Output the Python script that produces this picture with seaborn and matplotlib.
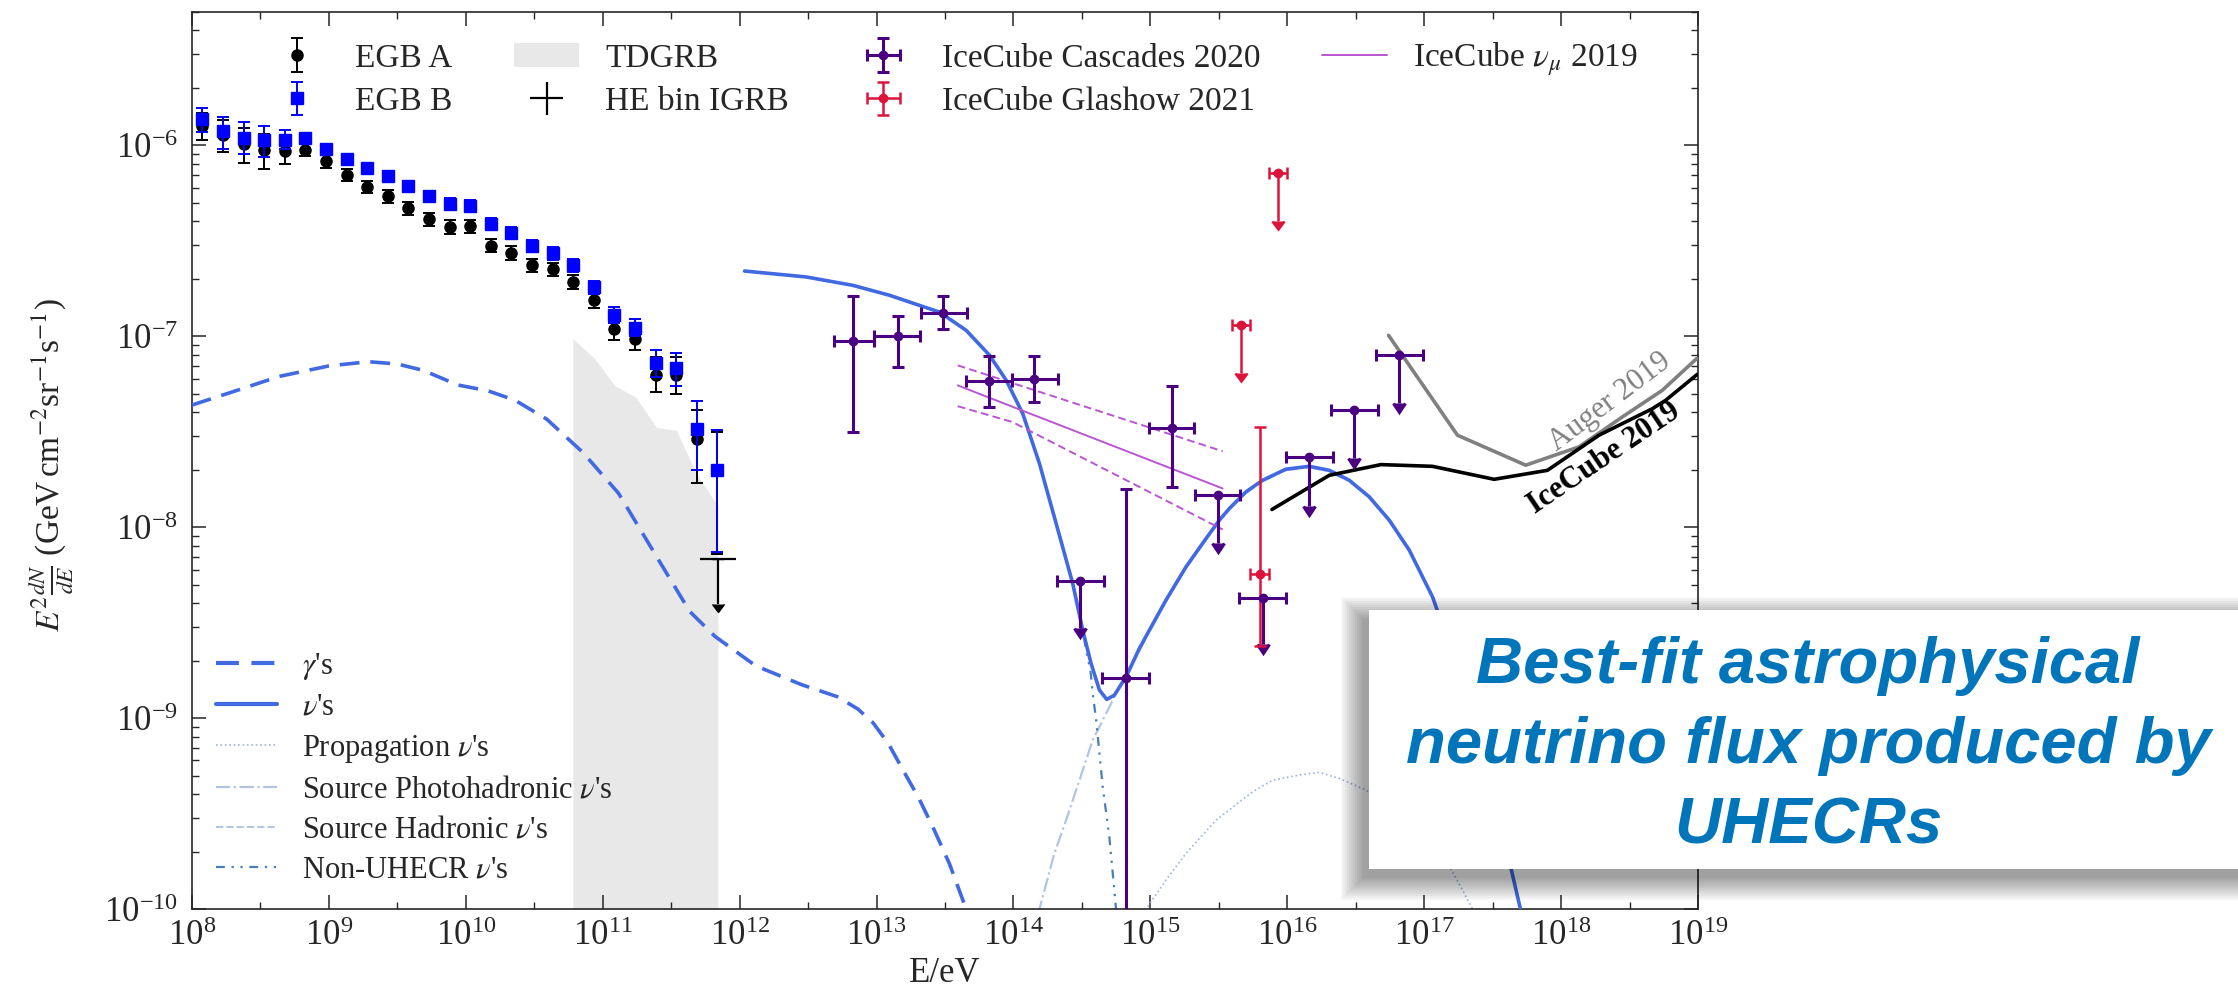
import numpy as np
import matplotlib
matplotlib.use("Agg")
import matplotlib.pyplot as plt
import matplotlib.ticker as mticker
from matplotlib.patches import Rectangle
import seaborn as sns

# ---------------- data ----------------
# Fermi EGB bins (eV) and E^2 dN/dE (GeV cm^-2 sr^-1 s^-1)
egb_E = [1.19e8, 1.68e8, 2.38e8, 3.36e8, 4.76e8, 6.73e8, 9.51e8, 1.345e9, 1.90e9,
         2.69e9, 3.81e9, 5.38e9, 7.61e9, 1.076e10, 1.52e10, 2.15e10, 3.04e10,
         4.30e10, 6.09e10, 8.61e10, 1.217e11, 1.72e11, 2.43e11, 3.44e11, 4.87e11, 6.88e11]

egb_a = [1.27e-6, 1.13e-6, 1.02e-6, 9.5e-7, 9.3e-7, 9.5e-7, 8.28e-7, 7.02e-7, 6.05e-7,
         5.43e-7, 4.68e-7, 4.11e-7, 3.75e-7, 3.78e-7, 2.99e-7, 2.73e-7, 2.36e-7,
         2.24e-7, 1.93e-7, 1.55e-7, 1.09e-7, 9.7e-8, 6.3e-8, 6.3e-8, 2.91e-8, 1.99e-8]
egb_a_lo = [1.07e-6, 9.2e-7, 8.1e-7, 7.5e-7, 7.95e-7, 8.75e-7, 7.65e-7, 6.5e-7, 5.6e-7,
            5.0e-7, 4.3e-7, 3.78e-7, 3.45e-7, 3.48e-7, 2.75e-7, 2.5e-7, 2.17e-7,
            2.06e-7, 1.77e-7, 1.4e-7, 9.6e-8, 8.5e-8, 5.1e-8, 5.0e-8, 1.7e-8, 7.2e-9]
egb_a_hi = [1.47e-6, 1.36e-6, 1.24e-6, 1.15e-6, 1.06e-6, 1.02e-6, 8.9e-7, 7.55e-7, 6.5e-7,
            5.85e-7, 5.05e-7, 4.45e-7, 4.05e-7, 4.08e-7, 3.23e-7, 2.96e-7, 2.55e-7,
            2.42e-7, 2.09e-7, 1.7e-7, 1.22e-7, 1.1e-7, 7.8e-8, 7.8e-8, 4.1e-8, 3.15e-8]

egb_b = [1.38e-6, 1.19e-6, 1.10e-6, 1.07e-6, 1.07e-6, 1.10e-6, 9.57e-7, 8.48e-7, 7.58e-7,
         6.94e-7, 6.12e-7, 5.41e-7, 4.93e-7, 4.83e-7, 3.89e-7, 3.47e-7, 2.98e-7,
         2.72e-7, 2.35e-7, 1.81e-7, 1.30e-7, 1.11e-7, 7.25e-8, 6.85e-8, 3.26e-8, 1.99e-8]
egb_b_lo = [1.17e-6, 9.6e-7, 8.97e-7, 8.7e-7, 9.6e-7, 1.02e-6, 9.0e-7, 8.0e-7, 7.15e-7,
            6.55e-7, 5.75e-7, 5.05e-7, 4.6e-7, 4.5e-7, 3.62e-7, 3.22e-7, 2.77e-7,
            2.52e-7, 2.18e-7, 1.67e-7, 1.18e-7, 1.0e-7, 6.1e-8, 5.5e-8, 2.0e-8, 7.4e-9]
egb_b_hi = [1.57e-6, 1.41e-6, 1.32e-6, 1.27e-6, 1.21e-6, 1.16e-6, 1.02e-6, 9.0e-7, 8.0e-7,
            7.35e-7, 6.5e-7, 5.8e-7, 5.3e-7, 5.2e-7, 4.18e-7, 3.73e-7, 3.2e-7,
            2.93e-7, 2.53e-7, 1.96e-7, 1.43e-7, 1.23e-7, 8.5e-8, 8.2e-8, 4.6e-8, 3.24e-8]

# TDGRB band (upper edge)
tdgrb_E = [6.05e10, 8.75e10, 1.22e11, 1.74e11, 2.47e11, 3.45e11, 4.83e11, 6.76e11, 6.95e11]
tdgrb_F = [9.73e-8, 7.64e-8, 5.53e-8, 4.81e-8, 3.33e-8, 3.22e-8, 1.91e-8, 1.33e-8, 1.30e-8]

# HE bin IGRB upper limit
he_E, he_F, he_end = [6.9e11], [6.84e-9], [3.95e-9]
he_Elo, he_Ehi = [5.16e11], [9.33e11]

# IceCube cascades 2020, measured bins
casc_E = [6.68e12, 1.44e13, 3.08e13, 6.58e13, 1.42e14, 6.68e14, 1.44e15]
casc_F = [9.5e-8, 1.0e-7, 1.33e-7, 5.83e-8, 6.0e-8, 1.63e-9, 3.29e-8]
casc_Flo = [3.15e-8, 6.9e-8, 1.09e-7, 4.26e-8, 4.53e-8, 1e-12, 1.63e-8]
casc_Fhi = [1.63e-7, 1.28e-7, 1.62e-7, 7.85e-8, 7.9e-8, 1.58e-8, 5.5e-8]
casc_Elo = [4.93e12, 9.66e12, 2.12e13, 4.52e13, 9.79e13, 4.44e14, 9.7e14]
casc_Ehi = [9.66e12, 2.06e13, 4.56e13, 9.79e13, 2.11e14, 9.77e14, 2.09e15]
# IceCube cascades 2020, upper limits
cul_E = [3.08e14, 3.1e15, 6.6e15, 1.45e16, 3.06e16, 6.6e16]
cul_F = [5.24e-9, 1.47e-8, 4.28e-9, 2.32e-8, 4.1e-8, 7.96e-8]
cul_end = [2.95e-9, 8.3e-9, 2.45e-9, 1.29e-8, 2.3e-8, 4.5e-8]
cul_Elo = [2.08e14, 2.11e15, 4.47e15, 9.77e15, 2.08e16, 4.47e16]
cul_Ehi = [4.56e14, 4.54e15, 9.77e15, 2.14e16, 4.57e16, 9.77e16]

# IceCube Glashow 2021
gl_E, gl_F, gl_Flo, gl_Fhi = [6.28e15], [5.68e-9], [2.38e-9], [3.35e-8]
gl_Elo, gl_Ehi = [5.33e15], [7.4e15]
glul_E = [4.58e15, 8.5e15]
glul_F = [1.14e-7, 7.2e-7]
glul_end = [6.4e-8, 4.0e-7]
glul_Elo = [3.94e15, 7.33e15]
glul_Ehi = [5.37e15, 9.89e15]

# IceCube numu 2019 (log10 E, log10 flux)
numu_logE = [13.593, 13.993, 15.528]
numu_mid = [-7.257, -7.369, -7.797]
numu_up = [-7.152, -7.245, -7.602]
numu_low = [-7.366, -7.449, -8.012]

# Auger 2019 and IceCube 2019 UHE limits (log10)
auger_logE = [16.74, 17.243, 17.742, 18.131, 18.448, 18.739, 18.99]
auger_logF = [-6.995, -7.518, -7.675, -7.579, -7.422, -7.283, -7.117]
ic19_logE = [15.888, 16.307, 16.684, 17.06, 17.511, 17.9, 18.277, 18.448, 18.667, 18.764, 18.995]
ic19_logF = [-7.907, -7.728, -7.672, -7.681, -7.749, -7.702, -7.518, -7.457, -7.379, -7.335, -7.199]

# model curves (log10 E/eV, log10 flux)
gam_logE = [8.0, 8.3, 8.637, 9.0, 9.289, 9.5, 9.688, 9.941, 10.16, 10.36, 10.591, 10.853,
            11.114, 11.374, 11.635, 11.82, 12.117, 12.453, 12.714, 12.863, 12.974, 13.086,
            13.197, 13.31, 13.42, 13.533, 13.645, 13.7]
gam_logF = [-7.36, -7.29, -7.21, -7.155, -7.133, -7.145, -7.178, -7.255, -7.285, -7.335,
            -7.434, -7.607, -7.821, -8.131, -8.441, -8.572, -8.726, -8.825, -8.888, -8.952,
            -9.024, -9.133, -9.277, -9.421, -9.584, -9.764, -9.982, -10.1]

nu_logE = [12.036, 12.486, 12.827, 13.095, 13.314, 13.46, 13.655, 13.825, 13.947, 14.068,
           14.19, 14.312, 14.433, 14.506, 14.567, 14.628, 14.681, 14.737, 14.823, 14.92,
           14.993, 15.114, 15.261, 15.407, 15.504, 15.577, 15.698, 15.82, 15.99, 16.161,
           16.307, 16.453, 16.599, 16.745, 16.891, 17.061, 17.3, 17.5, 17.637, 17.703, 17.75]
nu_logF = [-6.658, -6.689, -6.733, -6.785, -6.838, -6.873, -6.969, -7.099, -7.23, -7.405,
           -7.667, -7.981, -8.295, -8.539, -8.714, -8.853, -8.902, -8.88, -8.783, -8.635,
           -8.539, -8.382, -8.207, -8.059, -7.963, -7.902, -7.815, -7.754, -7.696, -7.681,
           -7.702, -7.754, -7.841, -7.963, -8.12, -8.365, -8.85, -9.35, -9.796, -10.0, -10.2]

photo_logE = [14.15, 14.19, 14.299, 14.385, 14.482, 14.579, 14.701, 14.798, 14.92,
              14.993, 15.114, 15.261, 15.407, 15.504, 15.577, 15.698, 15.82, 15.99, 16.161,
              16.307, 16.453, 16.599, 16.745, 16.891, 17.061, 17.3, 17.5, 17.637, 17.703, 17.75]
photo_logF = [-10.15, -10.0, -9.708, -9.534, -9.325, -9.115, -8.941, -8.801, -8.645,
              -8.545, -8.388, -8.212, -8.064, -7.968, -7.907, -7.82, -7.759, -7.701, -7.686,
              -7.707, -7.759, -7.846, -7.968, -8.125, -8.37, -8.855, -9.355, -9.8, -10.0, -10.2]

nonuhecr_logE = [12.036, 12.486, 12.827, 13.095, 13.314, 13.46, 13.655, 13.825, 13.947, 14.068,
                 14.19, 14.312, 14.433, 14.506, 14.535, 14.562, 14.579, 14.604, 14.628, 14.652,
                 14.7, 14.749, 14.77]
nonuhecr_logF = [-6.658, -6.689, -6.733, -6.785, -6.838, -6.873, -6.969, -7.099, -7.23, -7.405,
                 -7.667, -7.981, -8.295, -8.539, -8.661, -8.749, -8.871, -9.01, -9.185, -9.36,
                 -9.62, -9.995, -10.2]

prop_logE = [14.95, 14.969, 15.114, 15.261, 15.48, 15.747, 15.893, 16.088, 16.234, 16.38,
             16.574, 16.9, 17.1, 17.2, 17.266, 17.353, 17.38]
prop_logF = [-10.1, -10.0, -9.848, -9.708, -9.534, -9.386, -9.325, -9.298, -9.284, -9.316,
             -9.377, -9.55, -9.72, -9.796, -9.883, -10.0, -10.1]

W, H = 2238, 991

sns.set_style("ticks")
plt.rcParams.update({
    "font.family": ["serif"],
    "font.serif": ["Liberation Serif", "DejaVu Serif"],
    "mathtext.fontset": "stix",
    "axes.linewidth": 1.2,
})

fig = plt.figure(figsize=(W / 100, H / 100), dpi=100)
ax = fig.add_axes([192 / W, 82 / H, 1506 / W, 897 / H])
ax.set_xscale("log")
ax.set_yscale("log")

blue = "#4169E1"

# shaded TDGRB band
tdgrb = ax.fill_between(tdgrb_E, tdgrb_F, 1e-12, color="#e8e8e8", lw=0, zorder=0,
                        label="TDGRB")

def lg(a):
    return 10 ** np.asarray(a)

# model curves
sns.lineplot(x=lg(prop_logE), y=lg(prop_logF), ax=ax, color="#9fb4dc", lw=1.2,
             linestyle=":", sort=False, estimator=None, zorder=2)
sns.lineplot(x=lg(photo_logE), y=lg(photo_logF), ax=ax, color="#b0c4e4", lw=1.6,
             linestyle="-.", sort=False, estimator=None, zorder=2)
sns.lineplot(x=lg(nonuhecr_logE), y=lg(nonuhecr_logF), ax=ax, color="#4a7fb5", lw=1.6,
             linestyle=(0, (4, 3, 1, 3, 1, 3)), sort=False, estimator=None, zorder=2)
sns.lineplot(x=lg(gam_logE), y=lg(gam_logF), ax=ax, color=blue, lw=2.6,
             linestyle=(0, (5.5, 3)), sort=False, estimator=None, zorder=3)
sns.lineplot(x=lg(nu_logE), y=lg(nu_logF), ax=ax, color=blue, lw=2.6,
             sort=False, estimator=None, zorder=3)

# IceCube numu band
orchid = "#BA55D3"
sns.lineplot(x=lg(numu_logE), y=lg(numu_mid), ax=ax, color=orchid, lw=1.4,
             sort=False, estimator=None, zorder=3)
for band in (numu_up, numu_low):
    sns.lineplot(x=lg(numu_logE), y=lg(band), ax=ax, color=orchid, lw=1.4,
                 linestyle=(0, (4, 2.2)), sort=False, estimator=None, zorder=3)

# UHE sensitivities
sns.lineplot(x=lg(auger_logE), y=lg(auger_logF), ax=ax, color="#808080", lw=2.6,
             sort=False, estimator=None, zorder=3)
sns.lineplot(x=lg(ic19_logE), y=lg(ic19_logF), ax=ax, color="black", lw=2.6,
             sort=False, estimator=None, zorder=3)
ax.text(10 ** 18.36, 10 ** -7.344, "Auger 2019", color="#808080", fontsize=22,
        rotation=37, ha="center", va="center", rotation_mode="anchor")
ax.text(10 ** 18.314, 10 ** -7.64, "IceCube 2019", color="black", fontsize=22,
        fontweight="bold", rotation=34, ha="center", va="center", rotation_mode="anchor")

# EGB points
def yerr(v, lo, hi):
    v, lo, hi = map(np.asarray, (v, lo, hi))
    return [v - lo, hi - v]

def xerr(v, lo, hi):
    v, lo, hi = map(np.asarray, (v, lo, hi))
    return [v - lo, hi - v]

h_a = ax.errorbar(egb_E, egb_a, yerr=yerr(egb_a, egb_a_lo, egb_a_hi), fmt="o", color="black",
                  ms=8, capsize=4, elinewidth=1.4, capthick=1.4, zorder=4)
h_b = ax.errorbar(egb_E, egb_b, yerr=yerr(egb_b, egb_b_lo, egb_b_hi), fmt="s", color="#0000FF",
                  ms=8, capsize=4, elinewidth=1.4, capthick=1.4, zorder=5)

# HE bin IGRB upper limit
ax.errorbar(he_E, he_F, xerr=xerr(he_E, he_Elo, he_Ehi), fmt="none", color="black",
            elinewidth=1.6, capsize=0, zorder=5)
ax.errorbar(he_E, he_F, yerr=np.asarray(he_F) - np.asarray(he_end), uplims=True, fmt="none",
            color="black", elinewidth=1.6, capsize=4, zorder=5)
h_he = ax.errorbar([], [], xerr=[], yerr=[], fmt="none", color="black", elinewidth=1.6,
                   capsize=0)

# IceCube cascades
indigo = "#4B0082"
h_c = ax.errorbar(casc_E, casc_F, xerr=xerr(casc_E, casc_Elo, casc_Ehi),
                  yerr=yerr(casc_F, casc_Flo, casc_Fhi), fmt="o", color=indigo, ms=6,
                  elinewidth=2.2, capsize=4.5, capthick=2.2, zorder=6)
ax.errorbar(cul_E, cul_F, xerr=xerr(cul_E, cul_Elo, cul_Ehi),
            yerr=np.asarray(cul_F) - np.asarray(cul_end), uplims=True, fmt="o", color=indigo,
            ms=6, elinewidth=2.2, capsize=4.5, capthick=2.2, zorder=6)

# IceCube Glashow
crimson = "#DC143C"
h_g = ax.errorbar(gl_E, gl_F, xerr=xerr(gl_E, gl_Elo, gl_Ehi), yerr=yerr(gl_F, gl_Flo, gl_Fhi),
                  fmt="o", color=crimson, ms=6, elinewidth=1.8, capsize=4, capthick=1.8, zorder=6)
ax.errorbar(glul_E, glul_F, xerr=xerr(glul_E, glul_Elo, glul_Ehi),
            yerr=np.asarray(glul_F) - np.asarray(glul_end), uplims=True, fmt="o", color=crimson,
            ms=6, elinewidth=1.8, capsize=4, capthick=1.8, zorder=6)

# axes
ax.set_xlim(1e8, 1e19)
ax.set_ylim(1e-10, 5e-6)
ax.xaxis.set_major_locator(mticker.LogLocator(base=10, numticks=30))
ax.xaxis.set_minor_locator(mticker.LogLocator(base=10, subs=(10 ** 0.5,), numticks=30))
ax.xaxis.set_minor_formatter(mticker.NullFormatter())
ax.yaxis.set_major_locator(mticker.LogLocator(base=10, numticks=30))
ax.yaxis.set_minor_locator(mticker.LogLocator(base=10, subs=np.arange(2, 10), numticks=30))
ax.yaxis.set_minor_formatter(mticker.NullFormatter())
ax.tick_params(which="both", direction="in", top=True, right=True, labelsize=25)
ax.tick_params(which="major", length=10, width=1.1)
ax.tick_params(which="minor", length=5, width=1.0)
ax.tick_params(axis="x", pad=8)
ax.tick_params(axis="y", pad=10)
ax.set_xlabel("E/eV", fontsize=25, labelpad=3)
ax.set_ylabel(r"$E^2\frac{dN}{dE}$ (GeV$\,$cm$^{-2}$sr$^{-1}$s$^{-1}$)", fontsize=24)
ax.yaxis.set_label_coords(-0.077, 0.495)

# legends
numu_h = plt.Line2D([], [], color=orchid, lw=1.4)
leg1 = ax.legend([h_a, h_b, tdgrb, h_he, h_c, h_g, numu_h],
                 ["EGB A", "EGB B", "TDGRB", "HE bin IGRB", "IceCube Cascades 2020",
                  "IceCube Glashow 2021", r"IceCube $\nu_\mu$ 2019"],
                 ncol=4, loc="upper left", bbox_to_anchor=(0.048, 0.968), frameon=False,
                 fontsize=24, handlelength=1.95, handletextpad=0.78, columnspacing=1.85,
                 labelspacing=0.38, borderpad=0, borderaxespad=0)
ax.add_artist(leg1)

line_h = [
    plt.Line2D([], [], color=blue, lw=3, linestyle=(0, (5.5, 3))),
    plt.Line2D([], [], color=blue, lw=3),
    plt.Line2D([], [], color="#9fb4dc", lw=1.2, linestyle=":"),
    plt.Line2D([], [], color="#b0c4e4", lw=1.6, linestyle="-."),
    plt.Line2D([], [], color="#b0c4e4", lw=1.4, linestyle="--"),
    plt.Line2D([], [], color="#4a7fb5", lw=1.6, linestyle=(0, (4, 3, 1, 3, 1, 3))),
]
ax.legend(line_h, [r"$\gamma$'s", r"$\nu$'s", r"Propagation $\nu$'s",
                   r"Source Photohadronic $\nu$'s", r"Source Hadronic $\nu$'s",
                   r"Non-UHECR $\nu$'s"],
          loc="lower left", bbox_to_anchor=(0.016, 0.027), frameon=False, fontsize=22,
          handlelength=2.0, handletextpad=0.8, labelspacing=0.36, borderpad=0,
          borderaxespad=0)

# callout box with shadow
bx0, by0, bx1, by1 = 1369, 122, 2260, 381  # pixels from bottom-left
for k in range(12):
    g = 2 * k
    fig.add_artist(Rectangle(((bx0 - 6 - g) / W, (by0 - 9 - g) / H),
                             (bx1 - bx0 + 2 * g) / W, (by1 - by0 + 2 * g) / H,
                             transform=fig.transFigure, color="black", alpha=0.035,
                             lw=0, zorder=10))
fig.add_artist(Rectangle((bx0 / W, by0 / H), (bx1 - bx0) / W, (by1 - by0) / H,
                         transform=fig.transFigure, color="white", lw=0, zorder=11))
for txt, yb in [("Best-fit astrophysical", 308), ("neutrino flux produced by", 228),
                ("UHECRs", 148)]:
    fig.text(1808 / W, yb / H, txt, ha="center", va="baseline", fontsize=47,
             fontweight="bold", fontstyle="italic", color="#0075BA",
             family=["Liberation Sans", "DejaVu Sans"], zorder=12)

fig.savefig("out.png", dpi=100)
